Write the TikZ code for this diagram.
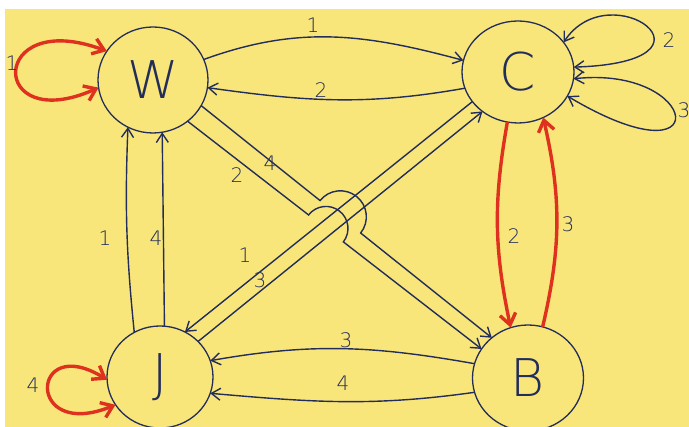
\documentclass[tikz,border=0pt]{standalone}
\usepackage{fontspec}
\newfontfamily\handfont{DejaVu Sans ExtraLight}
\usetikzlibrary{arrows.meta,shapes.geometric,calc}
\definecolor{paper}{RGB}{249,230,122}
\definecolor{ink}{RGB}{35,45,90}
\definecolor{redink}{RGB}{222,50,30}
\begin{document}
\begin{tikzpicture}[x=1pt,y=1pt,
  state/.style={ellipse, draw=ink, line width=1.3pt, inner sep=0pt, outer sep=0pt,
    font=\handfont\fontsize{52}{52}\selectfont, text=ink},
  conn/.style={draw=ink, line width=1.4pt, -{Straight Barb[length=9pt,width=12pt]}},
  loopconn/.style={draw=ink, line width=1.4pt,
    {Straight Barb[length=9pt,width=12pt]}-{Straight Barb[length=9pt,width=12pt]}},
  redconn/.style={draw=redink, line width=3.4pt, -{Straight Barb[length=11pt,width=16pt]}},
  redloop/.style={draw=redink, line width=3.4pt,
    {Straight Barb[length=11pt,width=16pt]}-{Straight Barb[length=11pt,width=16pt]}},
  lbl/.style={font=\handfont\fontsize{20}{20}\selectfont, text=ink, inner sep=0pt}]
\fill[white] (0,0) rectangle (689,427);
\fill[paper] (5,0) rectangle (689,418);
\useasboundingbox (0,0) rectangle (689,427);

% states
\node[state, minimum width=110pt, minimum height=106pt] (W) at (153,347) {W};
\node[state, minimum width=112pt, minimum height=102pt] (C) at (518,355) {C};
\node[state, minimum width=106pt, minimum height=102pt] (J) at (160,50) {J};
\node[state, minimum width=111pt, minimum height=106pt] (B) at (528,49) {B};

% W <-> C
\draw[conn] (W.22) to[out=20,in=165] (C.168);
\draw[conn] (C.197) to[out=190,in=-8] (W.-8);
\node[lbl] (l1) at (313,402) {1};
\node[lbl] (l2) at (321,337) {2};

% J -> W
\draw[conn] (J.120) to[bend left=4] (W.242);
\draw[conn] (J.85) -- (W.280);
\node[lbl] (l3) at (105,189) {1};
\node[lbl] (l4) at (156,189) {4};

% C <-> J
\draw[conn] (C.213) -- (J.61);
\draw[conn] (J.43) -- (C.228);
\node[lbl] (l5) at (245,172) {1};
\node[lbl] (l6) at (260,147) {3};

% W -> B with hops
\draw[conn] (W.-28) -- ($(W.-28)!0.409!(B.132)$)
  arc[start angle=141.38, end angle=-38.62, radius=26pt] -- (B.132);
\draw[conn] (W.-50) -- ($(W.-50)!0.4116!(B.148)$)
  arc[start angle=142.23, end angle=-37.77, radius=22pt] -- (B.148);
\node[lbl] (l7) at (237,252) {2};
\node[lbl] (l8) at (270,264) {4};

% B -> J
\draw[conn] (B.165) to[out=170,in=10] (J.18);
\draw[conn] (B.195) to[out=188,in=-5] (J.-18);
\node[lbl] (l9) at (346,87) {3};
\node[lbl] (l10) at (343,44) {4};

% C <-> B (red)
\draw[redconn] (C.258) to[bend right=11] (B.109);
\draw[redconn] (B.74) to[bend right=13] (C.299);
\node[lbl] (l11) at (514,191) {2};
\node[lbl] (l12) at (568,203) {3};

% self loops
\draw[redloop] (W.148) .. controls (-12,420) and (-12,290) .. (W.188);
\node[lbl] (l13) at (12,364) {1};
\draw[redloop] (J.183) .. controls (30,95) and (25,-15) .. (J.212);
\node[lbl] (l14) at (33,42) {4};
\draw[loopconn] (C.33) .. controls (610,455) and (735,365) .. (C.5);
\node[lbl] (l15) at (669,387) {2};
\draw[loopconn] (C.-7) .. controls (700,362) and (720,240) .. (C.-26);
\node[lbl] (l16) at (684,317) {3};
\end{tikzpicture}
\end{document}
